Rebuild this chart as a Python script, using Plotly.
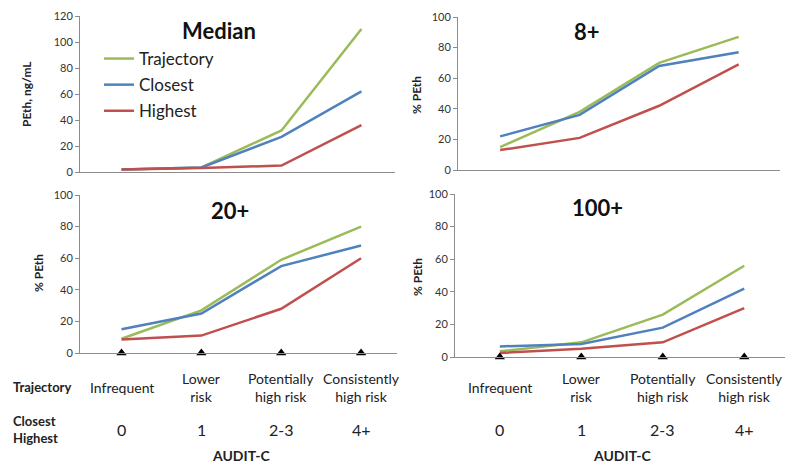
import plotly.graph_objects as go

categories = ["Infrequent", "Lower<br>risk", "Potentially<br>high risk", "Consistently<br>high risk"]
audit_labels = ["0", "1", "2-3", "4+"]
xpos = [0, 1, 2, 3]

median_traj = [2, 3.5, 32, 110]
median_close = [2, 3.5, 27, 62]
median_high = [2, 3, 5, 36]

p8_traj = [15, 38, 70, 87]
p8_close = [22, 36, 68, 77]
p8_high = [13, 21, 42, 69]

p20_traj = [9, 27, 59, 80]
p20_close = [15, 25, 55, 68]
p20_high = [8.5, 11, 28, 60]

p100_traj = [3.5, 9, 26, 56]
p100_close = [6.5, 8, 18, 42]
p100_high = [2.5, 5, 9, 30]

marker_y = [0, 0, 0, 0]

GREEN = "#9BBB59"
BLUE = "#4F81BD"
RED = "#C0504D"
FONT = "Lato, 'Open Sans', sans-serif"
OFF = 8  # page body margin
W, H = 800 - OFF, 471 - OFF


def px_x(v):
    return (v - OFF) / W


def px_y(v):
    return 1 - (v - OFF) / H


panels = [
    ("Median", "", (median_traj, median_close, median_high), (80, 395), (16, 172), 120, "PEth, ng/mL", (219, 30)),
    ("8+", "2", (p8_traj, p8_close, p8_high), (458, 780), (17, 170), 100, "% PEth", (587, 32)),
    ("20+", "3", (p20_traj, p20_close, p20_high), (80, 397), (195, 353), 100, "% PEth", (230, 210)),
    ("100+", "4", (p100_traj, p100_close, p100_high), (455, 785), (194, 357), 100, "% PEth", (597, 207)),
]
xranges = [(-0.52, 3.42), (-0.53, 3.52), (-0.52, 3.45), (-0.55, 3.5)]
ytitle_pos = [(27, 94), (416, 95), (38, 273), (417, 277)]

fig = go.Figure()
names = ["Trajectory", "Closest", "Highest"]
colors = [GREEN, BLUE, RED]
annotations = []
layout = {}

for i, (title, sfx, data, xr, yr, ymax, ytitle, tpos) in enumerate(panels):
    xa = "x" + sfx
    ya = "y" + sfx
    for j, series in enumerate(data):
        fig.add_trace(go.Scatter(
            x=xpos, y=series, mode="lines", name=names[j],
            line=dict(color=colors[j], width=2.5),
            xaxis=xa, yaxis=ya, showlegend=(i == 0), legendgroup=names[j],
            cliponaxis=False,
        ))
    layout["xaxis" + sfx] = dict(
        domain=[px_x(xr[0]), px_x(xr[1])], range=list(xranges[i]), anchor=ya,
        showticklabels=False, showgrid=False, zeroline=False, ticks="",
        showline=True, linecolor="#8c8c8c", linewidth=1, automargin=False,
    )
    layout["yaxis" + sfx] = dict(
        domain=[px_y(yr[1]), px_y(yr[0])], range=[0, ymax], dtick=20, anchor=xa,
        showgrid=False, zeroline=False, showline=True, linecolor="#8c8c8c", linewidth=1,
        ticks="outside", ticklen=4, tickcolor="#8c8c8c", automargin=False,
        tickfont=dict(family=FONT, size=11, color="#333"),
    )
    annotations.append(dict(
        text="<b>%s</b>" % title, x=px_x(tpos[0]), y=px_y(tpos[1]), xref="paper", yref="paper",
        showarrow=False, font=dict(family=FONT, size=22, color="#111"), xanchor="center", yanchor="middle",
    ))
    annotations.append(dict(
        text="<b>%s</b>" % ytitle, x=px_x(ytitle_pos[i][0]), y=px_y(ytitle_pos[i][1]), xref="paper", yref="paper",
        showarrow=False, textangle=-90, font=dict(family=FONT, size=12, color="#222"),
        xanchor="center", yanchor="middle",
    ))

for sfx in ["3", "4"]:
    fig.add_trace(go.Scatter(
        x=xpos, y=marker_y, mode="markers", marker=dict(symbol="triangle-up", size=9, color="#000"),
        xaxis="x" + sfx, yaxis="y" + sfx, showlegend=False, cliponaxis=False,
    ))

for sfx in ["3", "4"]:
    for k in range(len(categories)):
        annotations.append(dict(
            text=categories[k], x=xpos[k], y=px_y(387), xref="x" + sfx, yref="paper",
            showarrow=False, font=dict(family=FONT, size=14, color="#222"),
            xanchor="center", yanchor="middle",
        ))
        annotations.append(dict(
            text=audit_labels[k], x=xpos[k], y=px_y(429), xref="x" + sfx, yref="paper",
            showarrow=False, font=dict(family=FONT, size=16, color="#222"),
            xanchor="center", yanchor="middle",
        ))
    annotations.append(dict(
        text="<b>AUDIT-C</b>", x=1.5, y=px_y(455), xref="x" + sfx, yref="paper",
        showarrow=False, font=dict(family=FONT, size=14, color="#222"),
        xanchor="center", yanchor="middle",
    ))

annotations.append(dict(
    text="<b>Trajectory</b>", x=px_x(11), y=px_y(387), xref="paper", yref="paper",
    showarrow=False, font=dict(family=FONT, size=13, color="#222"), xanchor="left", yanchor="middle",
))
annotations.append(dict(
    text="<b>Closest<br>Highest</b>", x=px_x(11), y=px_y(429), xref="paper", yref="paper",
    showarrow=False, font=dict(family=FONT, size=13, color="#222"), xanchor="left", yanchor="middle",
    align="left",
))

fig.update_layout(
    width=W, height=H, margin=dict(l=0, r=0, t=0, b=0),
    paper_bgcolor="white", plot_bgcolor="white",
    font=dict(family=FONT),
    legend=dict(
        x=px_x(99), y=px_y(41), xanchor="left", yanchor="top",
        font=dict(family=FONT, size=17, color="#222"), bgcolor="rgba(0,0,0,0)",
        tracegroupgap=1,
    ),
    annotations=annotations,
    **layout,
)

fig.write_html("out.html")
